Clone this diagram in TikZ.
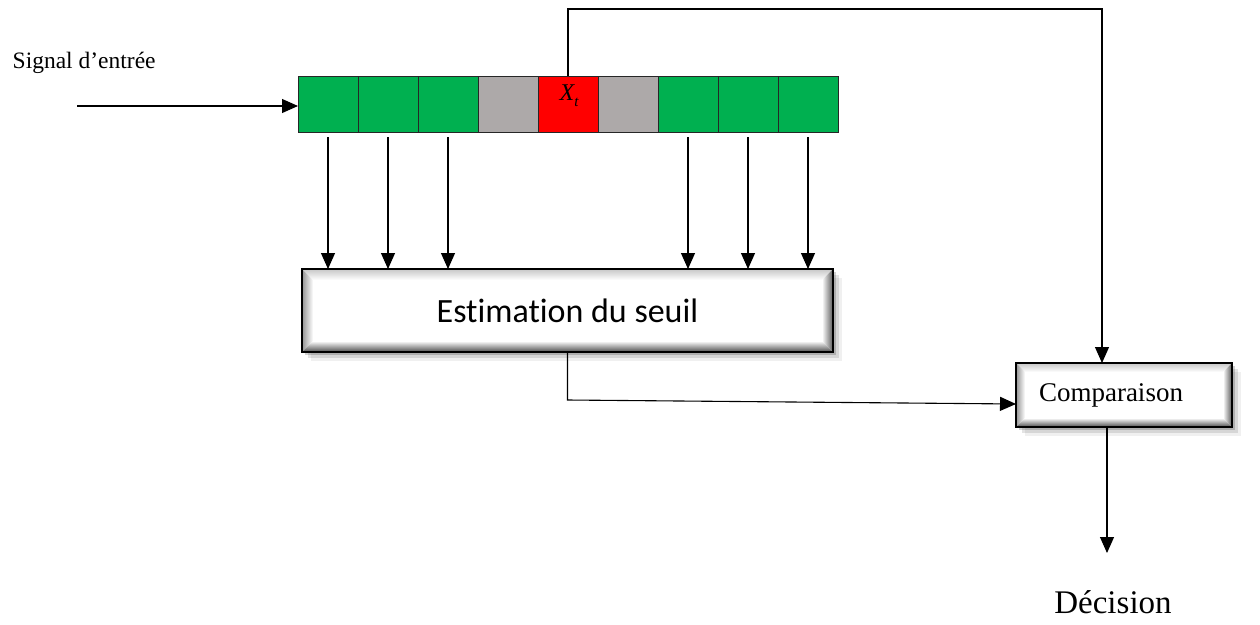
\documentclass[tikz,border=0pt]{standalone}
\usepackage{fontspec}
\setmainfont{Liberation Serif}
\newfontfamily\boxfont[Ligatures=NoCommon]{Carlito}
\usetikzlibrary{arrows.meta,calc,shadows}
\definecolor{cellgreen}{HTML}{00B050}
\definecolor{cellgray}{HTML}{ADA9A9}
\definecolor{cellred}{HTML}{FF0000}
% shaded bevel along the four inner edges of a box
\newcommand\bevelsides[1]{%
  \coordinate (bnw) at (path picture bounding box.north west);
  \coordinate (bne) at (path picture bounding box.north east);
  \coordinate (bsw) at (path picture bounding box.south west);
  \coordinate (bse) at (path picture bounding box.south east);
  \shade[top color=black!22, bottom color=white]
    (bnw) -- (bne) -- ($(bne)+(-#1,-#1)$) -- ($(bnw)+(#1,-#1)$) -- cycle;
  \shade[left color=black!42, right color=white]
    (bnw) -- ($(bnw)+(#1,-#1)$) -- ($(bsw)+(#1,#1)$) -- (bsw) -- cycle;
  \shade[left color=white, right color=black!65]
    (bne) -- (bse) -- ($(bse)+(-#1,#1)$) -- ($(bne)+(-#1,-#1)$) -- cycle;
  \shade[top color=white, bottom color=black!70]
    (bsw) -- (bse) -- ($(bse)+(-#1,#1)$) -- ($(bsw)+(#1,#1)$) -- cycle;
}
\begin{document}
\begin{tikzpicture}[x=1pt,y=-1pt,
  conn/.style={line width=1.1pt, draw=black},
  arr/.style={conn, -{Triangle[length=16pt,width=14pt]}},
  cell/.style={draw=black!85, line width=1pt, minimum width=60pt,
    minimum height=56pt, inner sep=0pt, outer sep=0pt},
  softshadow/.style={
    drop shadow={shadow xshift=3pt,shadow yshift=-3pt,opacity=.18,fill=black},
    drop shadow={shadow xshift=6pt,shadow yshift=-6pt,opacity=.11,fill=black},
    drop shadow={shadow xshift=9pt,shadow yshift=-9pt,opacity=.06,fill=black}},
  bevelbox/.style={draw=black, fill=white, inner sep=0pt, outer sep=0pt,
    softshadow, path picture={\bevelsides{#1}}},
]
\useasboundingbox (0,0) rectangle (1260,624);

% labels
\node[anchor=base west, inner sep=0pt, font=\fontsize{23.5}{28}\selectfont]
  (sig) at (12.5,68) {Signal d’entrée};

% sliding window of samples
\foreach \i/\col in {1/cellgreen,2/cellgreen,3/cellgreen,4/cellgray,5/cellred,
                     6/cellgray,7/cellgreen,8/cellgreen,9/cellgreen}
  \node[cell, fill=\col] (c\i) at ({328+60*(\i-1)},104) {};
\node[anchor=base, inner sep=0pt, font=\fontsize{24}{24}\selectfont\itshape]
  (xt) at (569,100) {X\raisebox{-6pt}{\fontsize{15}{15}\selectfont t}};

% processing blocks
\node[bevelbox=11pt, line width=2.8pt, minimum width=531pt, minimum height=83pt,
  font=\boxfont\fontsize{34}{40}\selectfont] (est) at (567.5,310.5) {Estimation du seuil};
\node[bevelbox=9pt, line width=2.5pt, minimum width=216pt, minimum height=64pt,
  text width=170pt, align=left, font=\fontsize{27}{30}\selectfont]
  (comp) at (1124,395) {Comparaison};
\node[anchor=base, inner sep=0pt, font=\fontsize{33}{40}\selectfont]
  (dec) at (1113,613) {Décision};

% connectors
\coordinate (in) at (77,106);
\draw[arr] (in) -- (c1.west |- in);
\foreach \i in {1,2,3,7,8,9}
  \draw[arr] ([yshift=-5pt]c\i.south) -- (c\i.south |- est.north);
\coordinate (top) at (1102,9);
\draw[arr] (c5.north) |- (top) -- (top |- comp.north);
\path (est.south) ++(0,48) coordinate (bend);
\draw[arr] (est.south) -- (bend) -- ([yshift=-9pt]comp.west);
\coordinate (decin) at (1107,553);
\draw[arr] (comp.south -| decin) -- (decin);
\end{tikzpicture}
\end{document}
